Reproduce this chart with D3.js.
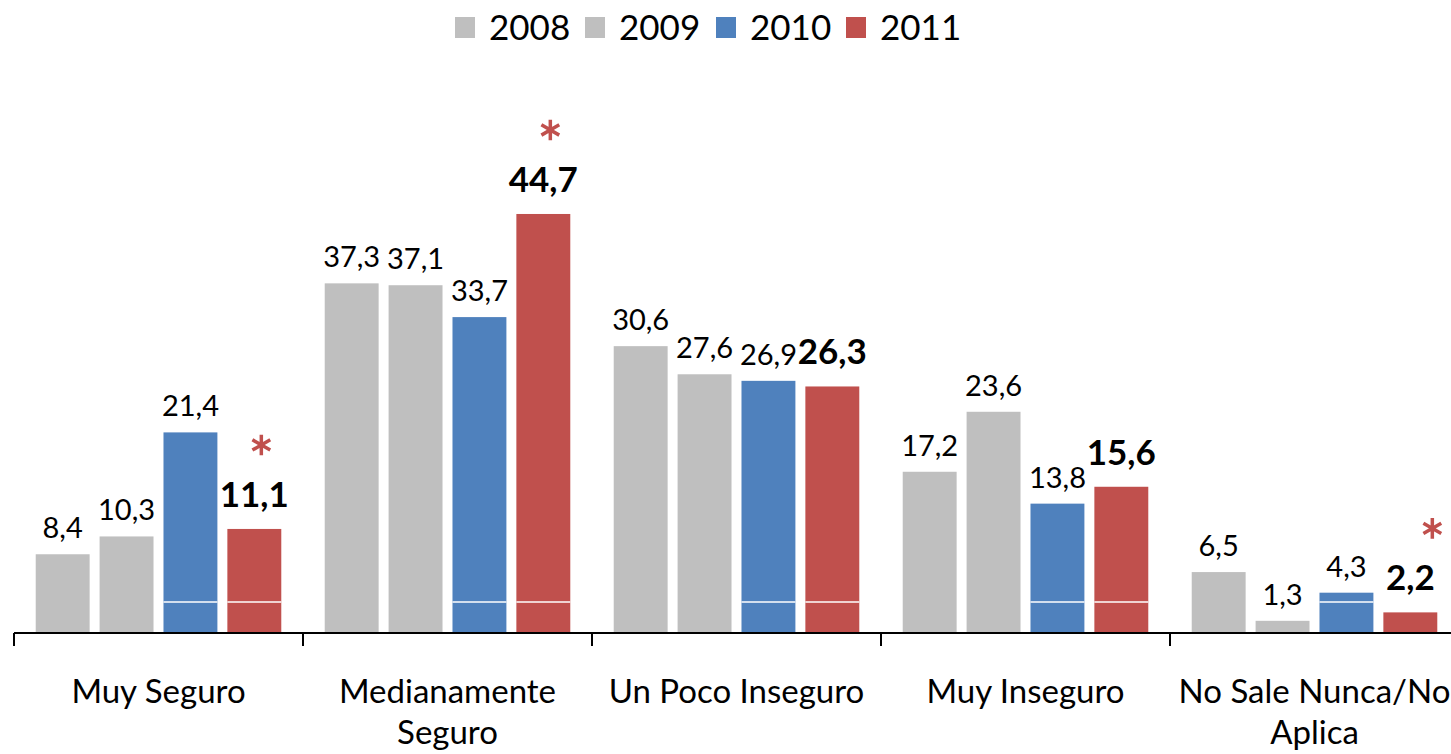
<!DOCTYPE html>
<html>
<head>
<meta charset="utf-8">
<script src="https://cdn.jsdelivr.net/npm/d3@7"></script>
<style>
  body { margin: 0; background: #fff; }
  svg text { font-family: Lato, "Open Sans", sans-serif; }
</style>
</head>
<body>
<div id="chart"></div>
<script>
// data
var categories = ["Muy Seguro", "Medianamente Seguro", "Un Poco Inseguro", "Muy Inseguro", "No Sale Nunca/No Aplica"];
var categoryLines = [["Muy Seguro"], ["Medianamente", "Seguro"], ["Un Poco Inseguro"], ["Muy Inseguro"], ["No Sale Nunca/No", "Aplica"]];
var years = ["2008", "2009", "2010", "2011"];
var v2008 = [8.4, 37.3, 30.6, 17.2, 6.5];
var v2009 = [10.3, 37.1, 27.6, 23.6, 1.3];
var v2010 = [21.4, 33.7, 26.9, 13.8, 4.3];
var v2011 = [11.1, 44.7, 26.3, 15.6, 2.2];
var starred = [true, true, false, false, true];   // asterisk over 2011
var whiteLineValue = 3.3;                          // thin white line seen across 2010/2011 bars

var width = 1451;
var height = 754;
var baseY = 633;
var colors = { "2008": "#bfbfbf", "2009": "#bfbfbf", "2010": "#4f81bd", "2011": "#c0504d" };

var seriesByYear = { "2008": v2008, "2009": v2009, "2010": v2010, "2011": v2011 };

var svg = d3.select("#chart")
    .append("svg")
    .attr("width", width)
    .attr("height", height);

var x0 = d3.scaleBand()
    .domain(categories)
    .range([14, 14 + 289 * 5]);

var x1 = d3.scaleBand()
    .domain(years)
    .range([0, x0.bandwidth()])
    .paddingInner(0.156)
    .paddingOuter(0.34);

var y = d3.scaleLinear()
    .domain([0, 50])
    .range([baseY, baseY - 50 * 9.374]);

var star = d3.symbol().type(d3.symbolAsterisk).size(300);

// bars
var groups = svg.selectAll("g.group")
    .data(categories)
    .enter()
    .append("g")
    .attr("class", "group")
    .attr("transform", function(d) { return "translate(" + x0(d) + ",0)"; });

groups.each(function(cat, i) {
    var g = d3.select(this);
    years.forEach(function(yr) {
        var val = seriesByYear[yr][i];
        g.append("rect")
            .attr("x", x1(yr))
            .attr("y", y(val))
            .attr("width", x1.bandwidth())
            .attr("height", baseY - y(val))
            .attr("fill", colors[yr]);

        if ((yr === "2010" || yr === "2011") && val > whiteLineValue) {
            g.append("line")
                .attr("x1", x1(yr))
                .attr("x2", x1(yr) + x1.bandwidth())
                .attr("y1", y(whiteLineValue))
                .attr("y2", y(whiteLineValue))
                .attr("stroke", "#fff")
                .attr("stroke-width", 1.5);
        }

        var bold = yr === "2011";
        g.append("text")
            .attr("x", x1(yr) + x1.bandwidth() / 2)
            .attr("y", y(val) - (bold ? 22 : 16))
            .attr("text-anchor", "middle")
            .attr("font-size", bold ? 35 : 29)
            .attr("font-weight", bold ? "bold" : "normal")
            .attr("fill", "#000")
            .text(String(val).replace(".", ","));

        if (bold && starred[i]) {
            var sx = x1(yr) + x1.bandwidth() / 2 + (i === 4 ? 22 : 7);
            g.append("path")
                .attr("d", star)
                .attr("transform", "translate(" + sx + "," + (y(val) - 84) + ")")
                .attr("fill", "none")
                .attr("stroke", "#c0504d")
                .attr("stroke-width", 3.5);
        }
    });
});

// axis
var axis = svg.append("g");
axis.append("line")
    .attr("x1", 14).attr("x2", width)
    .attr("y1", baseY).attr("y2", baseY)
    .attr("stroke", "#000").attr("stroke-width", 2);

axis.selectAll("line.tick")
    .data(categories)
    .enter()
    .append("line")
    .attr("class", "tick")
    .attr("x1", function(d) { return x0(d); })
    .attr("x2", function(d) { return x0(d); })
    .attr("y1", baseY)
    .attr("y2", baseY + 13)
    .attr("stroke", "#000").attr("stroke-width", 2);

// category labels
categories.forEach(function(cat, i) {
    var t = svg.append("text")
        .attr("x", x0(cat) + x0.bandwidth() / 2)
        .attr("y", 703)
        .attr("text-anchor", "middle")
        .attr("font-size", 33)
        .attr("fill", "#000");
    categoryLines[i].forEach(function(line, j) {
        t.append("tspan")
            .attr("x", x0(cat) + x0.bandwidth() / 2)
            .attr("dy", j === 0 ? 0 : 41)
            .text(line);
    });
});

// legend
var legendX = [455, 585, 716, 846];
var legend = svg.selectAll("g.legend")
    .data(years)
    .enter()
    .append("g")
    .attr("class", "legend")
    .attr("transform", function(d, i) { return "translate(" + legendX[i] + ",17)"; });

legend.append("rect")
    .attr("width", 20)
    .attr("height", 21)
    .attr("fill", function(d) { return colors[d]; });

legend.append("text")
    .attr("x", 34)
    .attr("y", 23)
    .attr("font-size", 35)
    .attr("fill", "#000")
    .text(function(d) { return d; });
</script>
</body>
</html>
